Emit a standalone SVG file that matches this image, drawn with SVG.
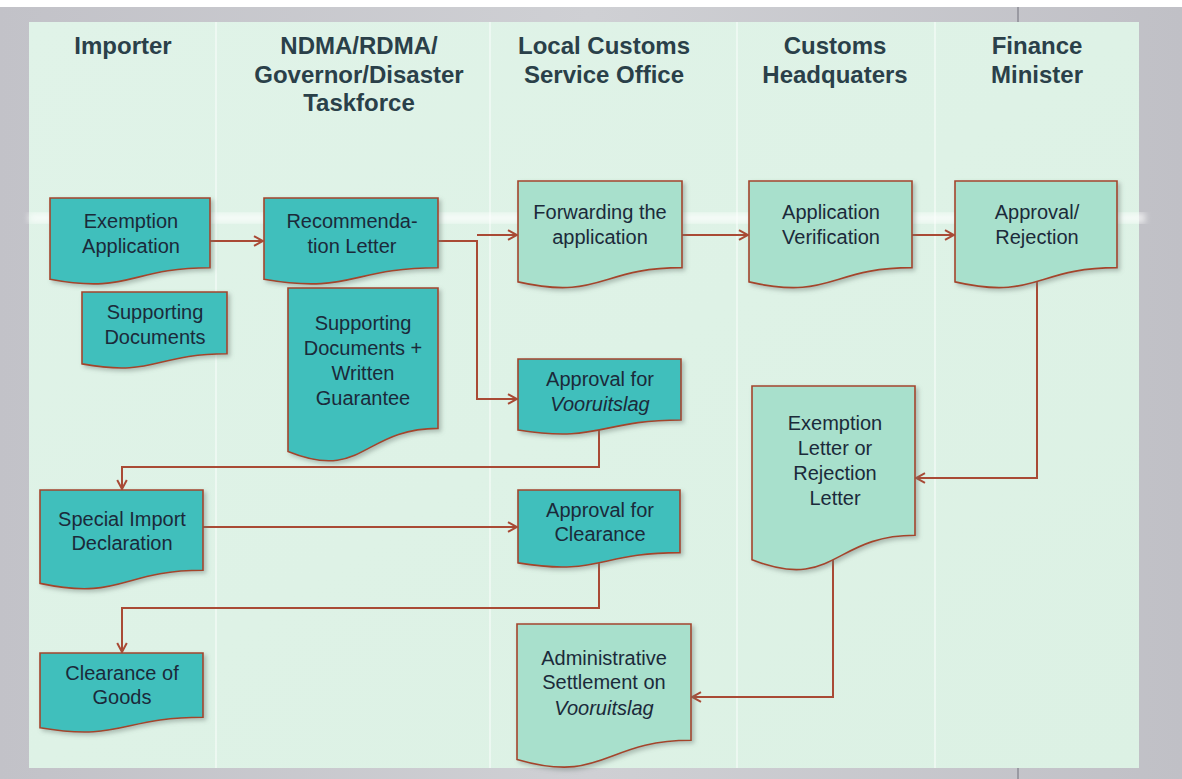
<svg xmlns="http://www.w3.org/2000/svg" width="1182" height="779" viewBox="0 0 1182 779">
<defs>
<style>
.hdr{font-family:"Liberation Sans",Arial,sans-serif;font-weight:bold;font-size:24px;fill:#2a4049;text-anchor:middle}
.txt{font-family:"Liberation Sans",Arial,sans-serif;font-size:20px;fill:#1b2a3a;text-anchor:middle}
.it{font-style:italic}
.dark{fill:#40bfbc;stroke:#a4452c;stroke-width:1.6}
.light{fill:#a8e0cc;stroke:#a4452c;stroke-width:1.6}
.con{fill:none;stroke:#a94a35;stroke-width:2;marker-end:url(#arr)}
.div{stroke:#ffffff;stroke-width:1.5;opacity:0.6}
</style>
<marker id="arr" viewBox="0 0 12 12" refX="11" refY="6" markerWidth="12" markerHeight="12" markerUnits="userSpaceOnUse" orient="auto">
<path d="M2,1.2 L11,6 L2,10.8" fill="none" stroke="#a94a35" stroke-width="2"/>
</marker>
<filter id="sh" x="-10%" y="-10%" width="130%" height="130%">
<feDropShadow dx="2.5" dy="2.5" stdDeviation="2" flood-color="#6a7a74" flood-opacity="0.45"/>
</filter>
<filter id="blur"><feGaussianBlur stdDeviation="3"/></filter>
<linearGradient id="bg" x1="0" y1="0" x2="1" y2="1">
<stop offset="0" stop-color="#e0f3e8"/>
<stop offset="1" stop-color="#dcf1e4"/>
</linearGradient>
<linearGradient id="frame" x1="0" y1="0" x2="1" y2="0">
<stop offset="0" stop-color="#c2c2c8"/>
<stop offset="0.5" stop-color="#cfd0d4"/>
<stop offset="1" stop-color="#c0c0c6"/>
</linearGradient>
</defs>

<rect x="0" y="0" width="1182" height="779" fill="url(#frame)"/>
<rect x="0" y="0" width="1182" height="7" fill="#ffffff"/>
<line x1="1018" y1="7" x2="1018" y2="22" stroke="#9a9aa2" stroke-width="2"/>
<line x1="1018" y1="768" x2="1018" y2="779" stroke="#9a9aa2" stroke-width="2"/>
<rect x="29" y="22" width="1110" height="746" fill="url(#bg)"/>
<rect x="29" y="213" width="1116" height="10" fill="#ffffff" opacity="0.7" filter="url(#blur)"/>

<g id="dividers">
<line class="div" x1="216" y1="22" x2="216" y2="768"/>
<line class="div" x1="490" y1="22" x2="490" y2="768"/>
<line class="div" x1="737" y1="22" x2="737" y2="768"/>
<line class="div" x1="935" y1="22" x2="935" y2="768"/>
</g>

<g id="headers">
<text class="hdr" x="123" y="54">Importer</text>
<text class="hdr" x="359" y="54">NDMA/RDMA/</text>
<text class="hdr" x="359" y="83">Governor/Disaster</text>
<text class="hdr" x="359" y="111">Taskforce</text>
<text class="hdr" x="604" y="54">Local Customs</text>
<text class="hdr" x="604" y="83">Service Office</text>
<text class="hdr" x="835" y="54">Customs</text>
<text class="hdr" x="835" y="83">Headquaters</text>
<text class="hdr" x="1037" y="54">Finance</text>
<text class="hdr" x="1037" y="83">Minister</text>
</g>

<g id="connectors">
<path class="con" d="M210,241 H263"/>
<path class="con" d="M438,241 H477 V399 H517"/>
<path class="con" d="M477,235 H517"/>
<path class="con" d="M682,235 H748"/>
<path class="con" d="M912,235 H954"/>
<path class="con" d="M1037,282 V478 H916"/>
<path class="con" d="M599,430 V467 H122 V489"/>
<path class="con" d="M203,527 H517"/>
<path class="con" d="M599,562 V608 H122 V652"/>
<path class="con" d="M833,559 V697 H692"/>
</g>

<g id="n-exemption-application">
<path class="dark" filter="url(#sh)" d="M50,198 H210 V267.8 C130,267.8 130,294.4 50,279.3 Z"/>
<text class="txt" x="131" y="228">Exemption</text>
<text class="txt" x="131" y="253">Application</text>
</g>

<g id="n-supporting-documents">
<path class="dark" filter="url(#sh)" d="M82,292 H227 V353.8 C154.5,353.8 154.5,377.3 82,363.9 Z"/>
<text class="txt" x="155" y="319">Supporting</text>
<text class="txt" x="155" y="344">Documents</text>
</g>

<g id="n-recommendation-letter">
<path class="dark" filter="url(#sh)" d="M264,198 H438 V267.8 C351,267.8 351,294.4 264,279.3 Z"/>
<text class="txt" x="352" y="228">Recommenda-</text>
<text class="txt" x="352" y="253">tion Letter</text>
</g>

<g id="n-supporting-guarantee">
<path class="dark" filter="url(#sh)" d="M288,288 H438 V428.4 C363,428.4 363,481.8 288,451.5 Z"/>
<text class="txt" x="363" y="330">Supporting</text>
<text class="txt" x="363" y="355">Documents +</text>
<text class="txt" x="363" y="380">Written</text>
<text class="txt" x="363" y="405">Guarantee</text>
</g>

<g id="n-forwarding">
<path class="light" filter="url(#sh)" d="M518,181 H682 V267.6 C600,267.6 600,300.6 518,281.9 Z"/>
<text class="txt" x="600" y="219">Forwarding the</text>
<text class="txt" x="600" y="244">application</text>
</g>

<g id="n-verification">
<path class="light" filter="url(#sh)" d="M749,181 H912 V267.6 C830.5,267.6 830.5,300.6 749,281.9 Z"/>
<text class="txt" x="831" y="219">Application</text>
<text class="txt" x="831" y="244">Verification</text>
</g>

<g id="n-approval-rejection">
<path class="light" filter="url(#sh)" d="M955,181 H1117 V267.6 C1036,267.6 1036,300.6 955,281.9 Z"/>
<text class="txt" x="1037" y="219">Approval/</text>
<text class="txt" x="1037" y="244">Rejection</text>
</g>

<g id="n-approval-vooruitslag">
<path class="dark" filter="url(#sh)" d="M518,359 H681 V420 C599.5,420 599.5,443.2 518,430 Z"/>
<text class="txt" x="600" y="386">Approval for</text>
<text class="txt it" x="600" y="411">Vooruitslag</text>
</g>

<g id="n-exemption-letter">
<path class="light" filter="url(#sh)" d="M752,386 H915 V535.2 C833.5,535.2 833.5,592 752,559.7 Z"/>
<text class="txt" x="835" y="430">Exemption</text>
<text class="txt" x="835" y="455">Letter or</text>
<text class="txt" x="835" y="480">Rejection</text>
<text class="txt" x="835" y="505">Letter</text>
</g>

<g id="n-special-import">
<path class="dark" filter="url(#sh)" d="M40,490 H203 V570.2 C121.5,570.2 121.5,600.8 40,583.4 Z"/>
<text class="txt" x="122" y="526">Special Import</text>
<text class="txt" x="122" y="550">Declaration</text>
</g>

<g id="n-approval-clearance">
<path class="dark" filter="url(#sh)" d="M518,490 H680 V552.6 C599,552.6 599,576.4 518,562.9 Z"/>
<text class="txt" x="600" y="517">Approval for</text>
<text class="txt" x="600" y="541">Clearance</text>
</g>

<g id="n-clearance-goods">
<path class="dark" filter="url(#sh)" d="M40,653 H203 V717.2 C121.5,717.2 121.5,741.6 40,727.7 Z"/>
<text class="txt" x="122" y="680">Clearance of</text>
<text class="txt" x="122" y="704">Goods</text>
</g>

<g id="n-administrative-settlement">
<path class="light" filter="url(#sh)" d="M517,624 H691 V740.3 C604,740.3 604,784.6 517,759.4 Z"/>
<text class="txt" x="604" y="665">Administrative</text>
<text class="txt" x="604" y="689">Settlement on</text>
<text class="txt it" x="604" y="715">Vooruitslag</text>
</g>
</svg>
